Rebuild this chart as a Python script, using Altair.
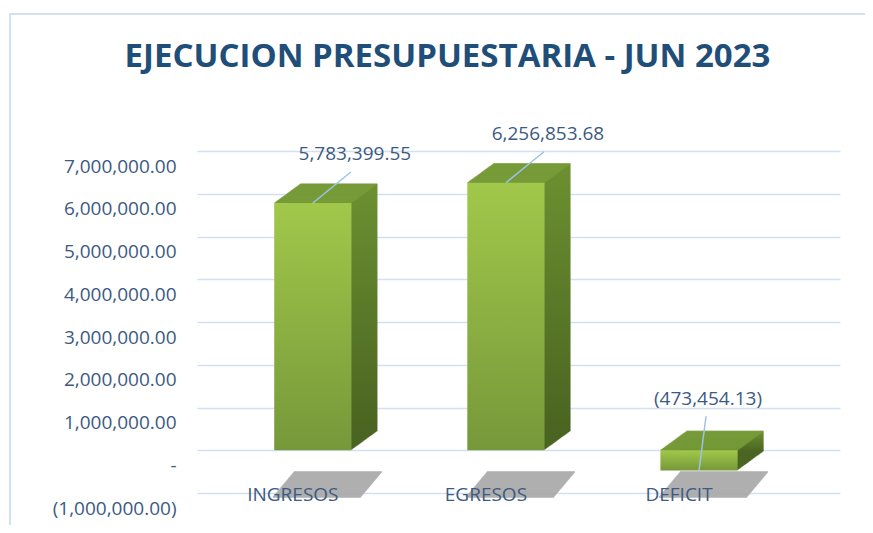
import altair as alt
import pandas as pd

categories = ["INGRESOS", "EGRESOS", "DEFICIT"]
values = [5783399.55, 6256853.68, -473454.13]
y_ticks = [-1000000, 0, 1000000, 2000000, 3000000, 4000000, 5000000, 6000000, 7000000]
title_text = "EJECUCION PRESUPUESTARIA - JUN 2023"

df = pd.DataFrame({"cat": categories, "value": values})

FONT = "Open Sans"
TXT = "#3C5A82"
W, H = 643, 342
DX, DY, N = 26, 19, 26

x_enc = alt.X(
    "cat:N", sort=categories,
    scale=alt.Scale(paddingInner=0.6, paddingOuter=0.465, align=0.43),
    axis=alt.Axis(title=None, labelAngle=0, labelOffset=-20, labelPadding=-8,
                  ticks=False, domain=False, labelFont=FONT, labelFontSize=19,
                  labelColor=TXT, zindex=1),
)
y_scale = alt.Scale(domain=[y_ticks[0], y_ticks[-1]], nice=False, zero=False)
nb = "\u00a0"
y_axis = alt.Axis(
    title=None, values=y_ticks, ticks=False, tickSize=0, domain=False,
    labelFont=FONT, labelFontSize=19, labelColor=TXT, labelPadding=21,
    labelOffset=15,
    labelExpr=("datum.value == 0 ? '-" + nb * 4 + "' : (datum.value < 0 ? '(' + format(-datum.value, ',.2f') + ')' : format(datum.value, ',.2f') + '" + nb + "')"),
    gridColor="#D3E0F2", gridWidth=1.6,
)
y_val = alt.Y("value:Q", scale=y_scale, axis=y_axis)
y_top = alt.Y("top:Q", scale=y_scale, axis=y_axis)

base = alt.Chart(df).transform_calculate(
    top="max(datum.value, 0)",
    label="datum.value < 0 ? '(' + format(-datum.value, ',.2f') + ')' : format(datum.value, ',.2f')",
)

def grad(c1, c2):
    return alt.Gradient(gradient="linear", x1=0, x2=0, y1=0, y2=1,
                        stops=[alt.GradientStop(color=c1, offset=0),
                               alt.GradientStop(color=c2, offset=1)])

layers = []
# chart border (decoration)
layers.append(alt.Chart(df).mark_rect(fillOpacity=0, stroke="#D3E0F2", strokeWidth=2)
              .encode(x=alt.value(-187), x2=alt.value(700),
                      y=alt.value(-137), y2=alt.value(420)))
# floor shadows
for k in range(0, 26):
    layers.append(base.mark_tick(color="#A6A6A6", thickness=2, size=88, orient="horizontal",
                                 xOffset=4 + 21 * k / 25)
                  .encode(x=x_enc, y=alt.value(346 - k)))
# side faces (extrusion)
for k in range(1, N + 1):
    layers.append(base.mark_bar(color=grad("#6C9031", "#4A6421"),
                                xOffset=DX * k / N, yOffset=-DY * k / N)
                  .encode(x=x_enc, y=y_val))
# top faces
for k in range(0, N + 1):
    layers.append(base.mark_tick(color="#789C39", thickness=1.6, size=77,
                                 xOffset=DX * k / N, yOffset=-DY * k / N)
                  .encode(x=x_enc, y=y_top))
# front faces
layers.append(base.mark_bar(color=grad("#A1C84A", "#76983A")).encode(x=x_enc, y=y_val))

# leader lines
layers.append(base.transform_filter("datum.value >= 0")
              .mark_rule(color="#9DC3E6", strokeWidth=1.5, x2Offset=38, y2Offset=-31)
              .encode(x=x_enc, x2=alt.X2("cat:N"), y=y_top, y2=alt.Y2("top:Q")))
layers.append(base.transform_filter("datum.value < 0")
              .mark_rule(color="#9DC3E6", strokeWidth=1.5, x2Offset=7, y2Offset=-34)
              .encode(x=x_enc, x2=alt.X2("cat:N"), y=y_val, y2=alt.Y2("top:Q")))
# value labels
layers.append(base.transform_filter("datum.value >= 0")
              .mark_text(font=FONT, fontSize=19, color=TXT, dx=42, dy=-49)
              .encode(x=x_enc, y=y_top, text="label:N"))
layers.append(base.transform_filter("datum.value < 0")
              .mark_text(font=FONT, fontSize=19, color=TXT, dx=9, dy=-51)
              .encode(x=x_enc, y=y_top, text="label:N"))

chart = alt.layer(*layers).properties(
    width=W, height=H,
    title=alt.TitleParams(title_text, font=FONT, fontSize=33, fontWeight="bold",
                          color="#1F4E79", anchor="middle", dx=-71, offset=-61),
    autosize=alt.AutoSizeParams(type="none"),
    padding={"left": 189, "top": 143, "right": 25, "bottom": 32},
).configure(background="white").configure_view(stroke=None)

chart.save("out.html", embed_options={"renderer": "svg", "actions": False})
